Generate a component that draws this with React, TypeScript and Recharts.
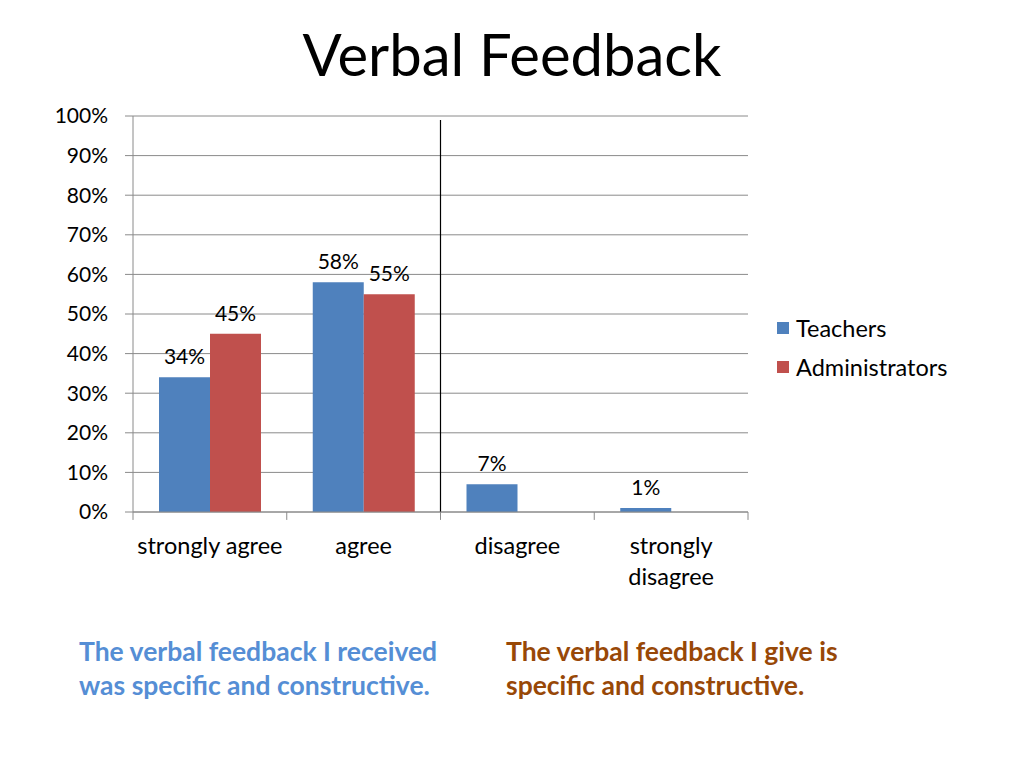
import {
  BarChart,
  Bar,
  XAxis,
  YAxis,
  CartesianGrid,
  Legend,
  LabelList,
  ReferenceLine,
} from 'recharts'

const categories = ['strongly agree', 'agree', 'disagree', 'strongly disagree']
const tickLines = [['strongly agree'], ['agree'], ['disagree'], ['strongly', 'disagree']]
const seriesNames = ['Teachers', 'Administrators']
const teachers = [34, 58, 7, 1]
const administrators: (number | null)[] = [45, 55, null, null]
const yTicks = [0, 10, 20, 30, 40, 50, 60, 70, 80, 90, 100]
// the divider sits after this category
const dividerAfter = 'agree'

const data = categories.map((c, i) => ({
  name: c,
  Teachers: teachers[i],
  Administrators: administrators[i],
}))

const FONT = 'Lato, "Open Sans", sans-serif'
const GRID = '#8a8a8a'

const pct = (v: any) => (v == null ? '' : `${v}%`)

const CategoryTick = (props: any) => {
  const { x, y, payload } = props
  const lines = tickLines[payload.index] ?? [String(payload.value)]
  return (
    <text x={x} y={y} textAnchor="middle" fill="#000" fontSize={23.5} fontFamily={FONT}>
      {lines.map((l, i) => (
        <tspan key={i} x={x} dy={i ? 31 : 16}>
          {l}
        </tspan>
      ))}
    </text>
  )
}

const LegendBox = (props: any) => {
  const items = [...(props.payload ?? [])].sort(
    (a: any, b: any) => seriesNames.indexOf(a.value) - seriesNames.indexOf(b.value)
  )
  return (
    <div style={{ paddingLeft: 29, fontFamily: FONT, fontSize: 23.5, color: '#000' }}>
      {items.map((p: any) => (
        <div key={p.value} style={{ height: 39, display: 'flex', alignItems: 'center' }}>
          <span style={{ width: 12, height: 12, background: p.color, marginRight: 7 }} />
          {p.value}
        </div>
      ))}
    </div>
  )
}

const lastCat = categories[categories.length - 1]

export default function App() {
  return (
    <div
      style={{
        position: 'absolute',
        left: 0,
        top: 0,
        width: 1024,
        height: 768,
        background: '#fff',
        fontFamily: FONT,
      }}
    >
      <div
        style={{
          position: 'absolute',
          top: 25,
          left: 0,
          width: 1024,
          textAlign: 'center',
          fontSize: 58,
          lineHeight: '58px',
          color: '#000',
        }}
      >
        Verbal Feedback
      </div>

      <div style={{ position: 'absolute', left: 0, top: 0 }}>
        <BarChart
          width={1024}
          height={620}
          data={data}
          barGap={0}
          barSize={51}
          margin={{ top: 116, right: 26, bottom: 48, left: 0 }}
        >
          <CartesianGrid vertical={false} stroke={GRID} />
          <XAxis
            dataKey="name"
            height={60}
            stroke={GRID}
            tickLine={false}
            tickSize={0}
            tickMargin={26}
            interval={0}
            tick={<CategoryTick />}
          />
          <YAxis
            width={133}
            domain={[0, 100]}
            ticks={yTicks}
            tickFormatter={pct}
            tickSize={8}
            tickMargin={17}
            stroke={GRID}
            tick={{ fill: '#000', fontSize: 21, fontFamily: FONT }}
          />
          {categories.map((c) => (
            <ReferenceLine
              key={c}
              position="start"
              segment={[
                { x: c, y: 0 },
                { x: c, y: -2 },
              ]}
              ifOverflow="visible"
              stroke={GRID}
            />
          ))}
          <ReferenceLine
            position="end"
            segment={[
              { x: lastCat, y: 0 },
              { x: lastCat, y: -2 },
            ]}
            ifOverflow="visible"
            stroke={GRID}
          />
          <ReferenceLine
            position="end"
            segment={[
              { x: dividerAfter, y: 0 },
              { x: dividerAfter, y: 99 },
            ]}
            stroke="#000"
            strokeWidth={1.2}
          />
          <Legend
            layout="vertical"
            align="right"
            verticalAlign="middle"
            width={250}
            wrapperStyle={{ top: 308 }}
            content={<LegendBox />}
          />
          <Bar dataKey="Teachers" fill="#4F81BD" isAnimationActive={false}>
            <LabelList
              dataKey="Teachers"
              position="top"
              offset={13}
              formatter={pct}
              fill="#000"
              fontSize={21}
              fontFamily={FONT}
            />
          </Bar>
          <Bar dataKey="Administrators" fill="#C0504D" isAnimationActive={false}>
            <LabelList
              dataKey="Administrators"
              position="top"
              offset={13}
              formatter={pct}
              fill="#000"
              fontSize={21}
              fontFamily={FONT}
            />
          </Bar>
        </BarChart>
      </div>

      <div
        style={{
          position: 'absolute',
          left: 79,
          top: 634,
          fontSize: 26.5,
          lineHeight: '34px',
          fontWeight: 700,
          color: '#558ED5',
        }}
      >
        The verbal feedback I received
        <br />
        was specific and constructive.
      </div>
      <div
        style={{
          position: 'absolute',
          left: 506,
          top: 634,
          fontSize: 26.5,
          lineHeight: '34px',
          fontWeight: 700,
          color: '#984807',
        }}
      >
        The verbal feedback I give is
        <br />
        specific and constructive.
      </div>
    </div>
  )
}
